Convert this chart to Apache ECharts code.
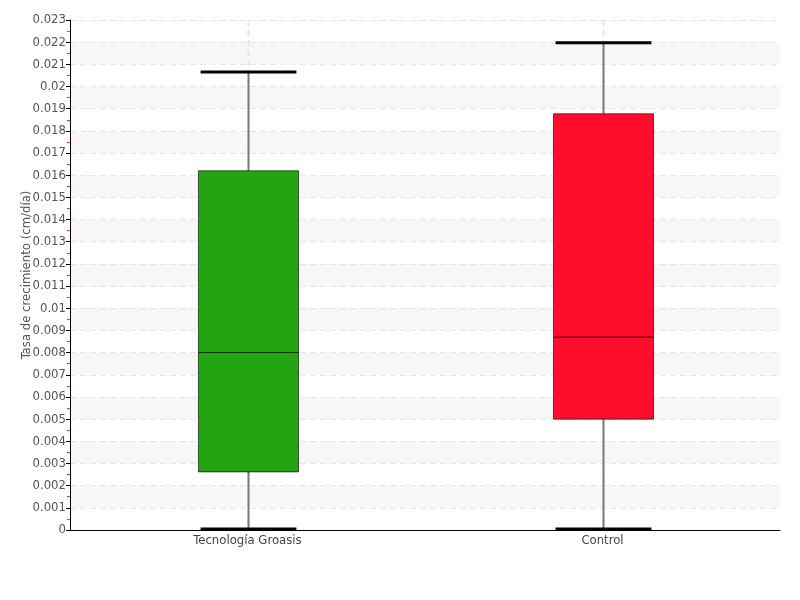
<!DOCTYPE html>
<html>
<head>
<meta charset="utf-8">
<script src="https://cdn.jsdelivr.net/npm/echarts@6/dist/echarts.min.js"></script>
<style>html,body{margin:0;padding:0;background:#fff}#c{width:800px;height:600px}</style>
</head>
<body>
<div id="c"></div>
<script>
var categories = ['Tecnología Groasis', 'Control'];
var mins = [0, 0];
var q1s = [0.00262, 0.0050];
var medians = [0.0080, 0.0087];
var q3s = [0.0162, 0.01877];
var maxs = [0.02066, 0.02197];
var colors = ['#22a511', '#ff0d2a'];
var yMax = 0.023;
var yStep = 0.001;

var FONT = "'DejaVu Sans Condensed', 'Liberation Sans Narrow', sans-serif";
var data = categories.map(function (c, i) { return [i, mins[i], q1s[i], medians[i], q3s[i], maxs[i]]; });

var chart = echarts.init(document.getElementById('c'), null, {renderer: 'canvas'});
chart.setOption({
  animation: false,
  backgroundColor: '#fff',
  grid: {left: 70, right: 20, top: 20, bottom: 70, containLabel: false},
  xAxis: {
    type: 'category',
    data: categories,
    axisLine: {lineStyle: {color: '#000', width: 1}},
    axisTick: {show: false},
    axisLabel: {color: '#444', fontFamily: FONT, fontSize: 13, margin: 4},
    splitLine: {show: false}
  },
  yAxis: {
    type: 'value',
    min: 0, max: yMax, interval: yStep,
    name: 'Tasa de crecimiento (cm/día)',
    nameLocation: 'middle',
    nameGap: 37,
    nameMoveOverlap: false,
    nameTextStyle: {color: '#555', fontFamily: FONT, fontSize: 13},
    axisLine: {show: true, lineStyle: {color: '#000', width: 1}},
    axisTick: {show: true, length: 4, lineStyle: {color: '#000'}},
    minorTick: {show: true, splitNumber: 2, length: 3, lineStyle: {color: '#ff3030'}},
    axisLabel: {color: '#555', fontFamily: FONT, fontSize: 13, margin: 4},
    splitLine: {show: true, lineStyle: {color: '#e6e6e6', type: [6, 4]}},
    splitArea: {show: true, areaStyle: {color: ['rgba(255,255,255,0)', '#f7f7f7']}}
  },
  series: [{
    type: 'custom',
    clip: false,
    data: data,
    encode: {x: 0, y: [1, 2, 3, 4, 5]},
    renderItem: function (params, api) {
      var idx = api.value(0);
      var band = api.size([1, 0])[0];
      var bw = band * 0.282;
      var cw = band * 0.27;
      var cs = params.coordSys;
      var pMin = api.coord([idx, api.value(1)]);
      var pQ1 = api.coord([idx, api.value(2)]);
      var pMed = api.coord([idx, api.value(3)]);
      var pQ3 = api.coord([idx, api.value(4)]);
      var pMax = api.coord([idx, api.value(5)]);
      var x = Math.round(pMed[0]) + 0.5;
      var col = colors[idx];
      return {
        type: 'group',
        children: [
          {type: 'line', shape: {x1: x, y1: cs.y, x2: x, y2: cs.y + cs.height}, style: {stroke: '#e6e6e6', lineWidth: 2, lineDash: [6, 4]}},
          {type: 'line', shape: {x1: x, y1: pMax[1], x2: x, y2: pQ3[1]}, style: {stroke: '#7a7a7a', lineWidth: 2}},
          {type: 'line', shape: {x1: x, y1: pQ1[1], x2: x, y2: pMin[1]}, style: {stroke: '#7a7a7a', lineWidth: 2}},
          {type: 'rect', shape: {x: x - bw / 2, y: pQ3[1], width: bw, height: pQ1[1] - pQ3[1]},
            style: {fill: col, stroke: 'rgba(0,0,0,0.6)', lineWidth: 1}},
          {type: 'line', shape: {x1: x - bw / 2, y1: pMed[1], x2: x + bw / 2, y2: pMed[1]}, style: {stroke: 'rgba(0,0,0,0.75)', lineWidth: 1}},
          {type: 'line', shape: {x1: x - cw / 2, y1: pMax[1], x2: x + cw / 2, y2: pMax[1]}, style: {stroke: '#000', lineWidth: 3}},
          {type: 'line', shape: {x1: x - cw / 2, y1: pMin[1] - 1, x2: x + cw / 2, y2: pMin[1] - 1}, style: {stroke: '#000', lineWidth: 3}}
        ]
      };
    },
    z: 3
  }]
});
</script>
</body>
</html>
